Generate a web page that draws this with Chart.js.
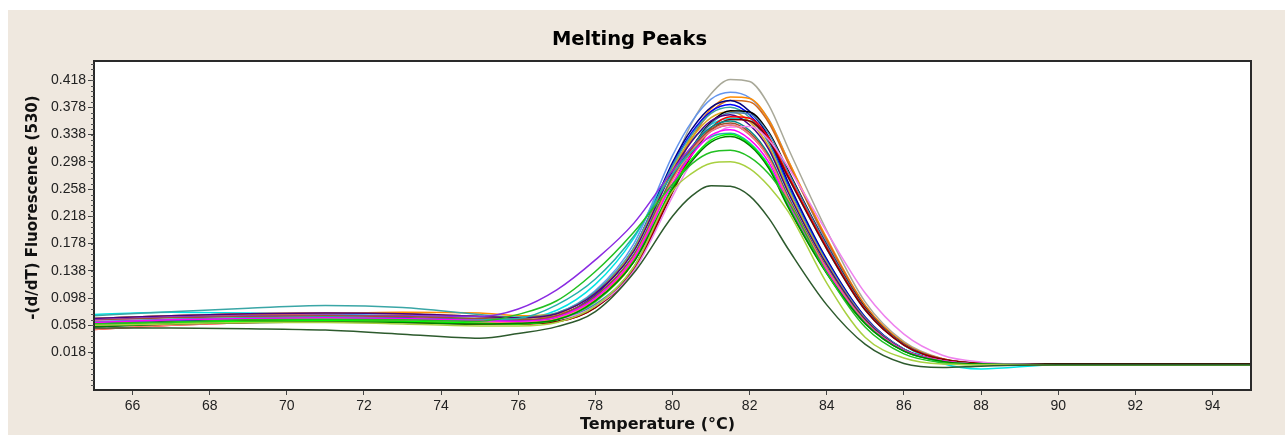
<!DOCTYPE html>
<html>
<head>
<meta charset="utf-8">
<script src="https://cdn.jsdelivr.net/npm/chart.js@4.4.1/dist/chart.umd.min.js"></script>
<style>
  html, body { margin: 0; padding: 0; background: #fff; }
  #wrap { position: absolute; left: 8px; top: 10px; width: 1277px; height: 425px; background: #efe8df; }
</style>
</head>
<body>
<div id="wrap"><canvas id="melt" width="1277" height="425"></canvas></div>
<script>
// temperatures (°C) at which the curves were read
const temps = [65, 67, 69, 71, 73, 75, 76, 77, 78, 79, 80, 80.5, 81, 81.5, 82, 82.5, 83, 84, 85, 86, 87, 88, 90, 95];

// -(d/dT) fluorescence, one array per sample
const w01 = [.062,.066,.068,.069,.068,.065,.064,.068,.092,.156,.291,.355,.398,.419,.416,.381,.318,.197,.092,.034,.009,.003,0,0];
const w02 = [.068,.072,.075,.076,.075,.071,.069,.076,.109,.178,.307,.357,.390,.400,.392,.360,.300,.180,.085,.030,.008,.002,0,0];
const w03 = [.066,.070,.073,.075,.077,.076,.072,.075,.098,.156,.279,.337,.376,.393,.391,.359,.300,.186,.087,.032,.009,.002,.001,.001];
const w04 = [.062,.066,.068,.069,.068,.065,.064,.070,.103,.171,.297,.346,.378,.388,.372,.334,.268,.155,.070,.023,.006,.002,0,0];
const w05 = [.066,.070,.072,.073,.072,.071,.082,.110,.154,.208,.285,.320,.343,.352,.338,.303,.243,.141,.063,.021,.006,.001,0,0];
const w06 = [.056,.060,.062,.063,.062,.060,.061,.064,.086,.143,.262,.318,.356,.373,.371,.341,.285,.176,.083,.030,.008,.002,.001,.001];
const w07 = [.052,.058,.062,.064,.063,.060,.060,.063,.084,.140,.256,.311,.348,.364,.362,.333,.278,.172,.081,.029,.008,.002,0,0];
const w08 = [.074,.077,.076,.074,.072,.068,.068,.080,.118,.186,.291,.330,.353,.362,.358,.329,.275,.170,.080,.029,.002,-.006,0,0];
const w09 = [.072,.078,.083,.087,.084,.074,.070,.076,.107,.172,.292,.338,.369,.378,.363,.325,.261,.151,.068,.023,.006,.002,0,0];
const w10 = [.062,.066,.068,.069,.068,.065,.064,.070,.098,.157,.266,.308,.337,.345,.331,.297,.238,.138,.062,.021,.006,.001,0,0];
const w11 = [.064,.067,.068,.068,.066,.063,.063,.066,.086,.138,.247,.298,.333,.349,.350,.330,.290,.195,.105,.045,.014,.004,0,0];
const w12 = [.060,.063,.065,.066,.065,.061,.060,.063,.084,.139,.253,.308,.344,.360,.358,.329,.275,.170,.080,.029,.008,.002,0,0];
const w13 = [.058,.064,.068,.070,.069,.066,.065,.071,.103,.170,.293,.341,.372,.382,.367,.329,.264,.153,.069,.023,.006,.002,0,0];
const w14 = [.060,.063,.066,.067,.066,.064,.074,.094,.137,.195,.265,.295,.312,.315,.305,.280,.240,.135,.055,.016,.003,0,0,0];
const w15 = [.058,.060,.062,.062,.060,.057,.057,.062,.086,.144,.255,.281,.296,.298,.288,.262,.225,.120,.040,.010,.001,0,0,0];
const w16 = [.054,.054,.053,.051,.045,.039,.046,.056,.078,.135,.218,.248,.263,.262,.248,.215,.170,.088,.030,.002,-.004,-.002,0,0];
const w17 = [.065,.069,.071,.072,.071,.068,.066,.072,.101,.161,.274,.317,.346,.355,.341,.305,.245,.142,.064,.021,.006,.001,0,0];
const w18 = [.063,.067,.069,.070,.068,.066,.068,.088,.126,.189,.280,.313,.335,.340,.326,.292,.235,.136,.061,.020,.005,.001,0,0];
const w19 = [.062,.066,.068,.069,.068,.065,.064,.067,.089,.144,.261,.317,.354,.370,.368,.339,.283,.175,.082,.030,.008,.002,0,0];
const w20 = [.052,.058,.062,.064,.064,.062,.062,.068,.097,.158,.271,.314,.343,.352,.338,.303,.243,.141,.063,.021,.006,.001,0,0];
const w21 = [.060,.062,.064,.065,.064,.061,.060,.066,.093,.152,.260,.302,.330,.338,.324,.291,.233,.135,.061,.020,.005,.001,0,0];
const w22 = [.068,.072,.075,.076,.075,.071,.069,.075,.105,.167,.284,.328,.358,.367,.352,.316,.253,.147,.066,.022,.006,.001,0,0];
const w23 = [.068,.072,.075,.076,.075,.071,.069,.072,.095,.152,.274,.332,.371,.388,.386,.355,.296,.183,.086,.031,.009,.002,.001,.001];
const w24 = [.056,.060,.062,.063,.062,.060,.061,.066,.094,.151,.258,.299,.327,.335,.322,.288,.231,.134,.060,.020,.005,.001,0,0];
const w25 = [.062,.066,.068,.069,.068,.065,.064,.071,.100,.162,.276,.320,.349,.358,.344,.308,.247,.143,.064,.021,.006,.001,0,0];
const w26 = [.068,.072,.075,.076,.075,.071,.069,.075,.105,.169,.287,.333,.363,.372,.357,.320,.257,.149,.067,.022,.006,.001,0,0];

const wells = [w16, w15, w14, w24, w21, w10, w18, w20, w11, w17, w05, w25, w12, w07, w22, w19, w06, w26, w09, w13, w04, w23, w03, w02, w01, w08];
const colors = ['#2d5a2d', '#a8d040', '#22c022', '#008000', '#00ff00', '#ff00ff', '#20b2aa', '#fa8072', '#ee82ee', '#a0522d',
                '#8a2be2', '#008b8b', '#800000', '#ff0000', '#4b0082', '#4682b4', '#000000', '#daa520', '#3aa6a6', '#0000ff',
                '#000080', '#d2691e', '#ff8c00', '#6495ed', '#a8a898', '#00e5e5'];

const xTicks = [66, 68, 70, 72, 74, 76, 78, 80, 82, 84, 86, 88, 90, 92, 94];
const yTicks = [0.018, 0.058, 0.098, 0.138, 0.178, 0.218, 0.258, 0.298, 0.338, 0.378, 0.418];
const yMinorStep = 0.008;

const xTitle = 'Temperature (°C)';
const yTitle = '-(d/dT) Fluorescence (530)';

const sans = "'Liberation Sans', Arial, sans-serif";
const wide = "'DejaVu Sans', Verdana, sans-serif";

// white plot area, frame, minor ticks on the y axis, and the two axis titles
const frame = {
  id: 'frame',
  beforeDatasetsDraw(chart) {
    const {ctx, chartArea: a} = chart;
    ctx.save();
    ctx.fillStyle = '#ffffff';
    ctx.fillRect(a.left, a.top, a.right - a.left, a.bottom - a.top);
    ctx.restore();
  },
  afterDraw(chart) {
    const {ctx, chartArea: a, scales: {y}} = chart;
    ctx.save();
    ctx.strokeStyle = '#2a2a2a';
    ctx.lineWidth = 2;
    ctx.strokeRect(a.left, a.top, a.right - a.left, a.bottom - a.top);
    ctx.lineWidth = 1;
    ctx.strokeStyle = '#555';
    ctx.beginPath();
    for (let v = yTicks[0] - 6 * yMinorStep; v < y.max; v += yMinorStep) {
      if (v <= y.min) continue;
      const py = Math.round(y.getPixelForValue(v)) + 0.5;
      ctx.moveTo(a.left - 3, py);
      ctx.lineTo(a.left, py);
    }
    ctx.stroke();

    ctx.fillStyle = '#111';
    ctx.textAlign = 'center';
    ctx.textBaseline = 'middle';
    ctx.font = 'bold 16px ' + wide;
    ctx.fillText(xTitle, (a.left + a.right) / 2 - 15, chart.height - 10);
    ctx.font = 'bold 15px ' + wide;
    ctx.translate(25, (a.top + a.bottom) / 2 - 18);
    ctx.rotate(-Math.PI / 2);
    ctx.fillText(yTitle, 0, 0);
    ctx.restore();
  }
};

new Chart(document.getElementById('melt'), {
  type: 'line',
  data: {
    datasets: wells.map((w, i) => ({
      data: w.map((v, j) => ({x: temps[j], y: v})),
      borderColor: colors[i],
      borderWidth: 1.5,
      pointRadius: 0,
      cubicInterpolationMode: 'monotone',
      fill: false
    }))
  },
  options: {
    responsive: false,
    animation: false,
    devicePixelRatio: 1,
    layout: { padding: { left: 0, right: 34, top: 0, bottom: 0 } },
    plugins: {
      legend: { display: false },
      tooltip: { enabled: false },
      title: {
        display: true,
        text: 'Melting Peaks',
        color: '#000',
        font: { family: wide, size: 19.5, weight: 'bold', lineHeight: 1.2 },
        padding: { top: 18, bottom: 9.6 }
      }
    },
    scales: {
      x: {
        type: 'linear',
        min: 65,
        max: 95,
        afterBuildTicks: s => { s.ticks = xTicks.map(v => ({value: v})); },
        afterFit: s => { s.height = 45; },
        ticks: { color: '#222', font: { family: sans, size: 14 }, padding: 3, maxRotation: 0, autoSkip: false },
        grid: { drawOnChartArea: false, drawTicks: true, tickLength: 5, color: '#444' },
        border: { display: true, color: '#2a2a2a', width: 2 }
      },
      y: {
        min: -0.037,
        max: 0.446,
        afterBuildTicks: s => { s.ticks = yTicks.map(v => ({value: v})); },
        afterFit: s => { s.width = 86; },
        ticks: { color: '#222', font: { family: sans, size: 14 }, padding: 2, autoSkip: false, callback: v => v.toFixed(3) },
        grid: { drawOnChartArea: false, drawTicks: true, tickLength: 6, color: '#444' },
        border: { display: true, color: '#2a2a2a', width: 2 }
      }
    }
  },
  plugins: [frame]
});
</script>
</body>
</html>
